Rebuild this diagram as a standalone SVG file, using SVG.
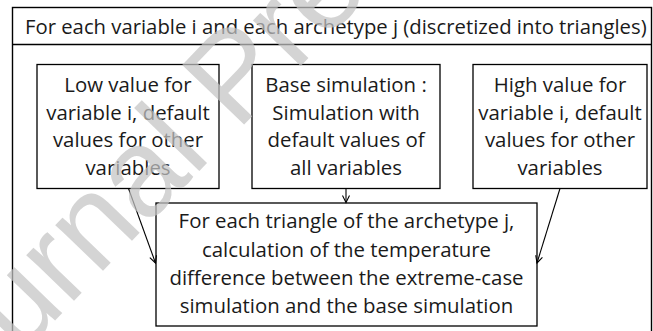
<svg xmlns="http://www.w3.org/2000/svg" width="653" height="331" viewBox="0 0 653 331">
<style>
.frame{fill:none;stroke:#000;stroke-width:1.4}
.box{fill:#fff;stroke:#000;stroke-width:1.3}
.t{font-family:"Open Sans","Noto Sans",sans-serif;font-size:20.4px;fill:#1a1a1a;text-anchor:middle}
.h{font-family:"Open Sans","Noto Sans",sans-serif;font-size:20.3px;fill:#1a1a1a}
.c{fill:none;stroke:#000;stroke-width:1.1}
.wm{font-family:"Liberation Sans",Arial,sans-serif;font-size:125px;fill:#c4c4c4;opacity:0.72}
</style>
<defs>
<marker id="arr" markerUnits="userSpaceOnUse" markerWidth="10" markerHeight="10" refX="8" refY="4" orient="auto">
<path d="M1,0.5 L8,4 L1,7.5" fill="none" stroke="#000" stroke-width="1.1"/>
</marker>
</defs>
<g id="frame">
<rect class="frame" x="12.5" y="7.5" width="639" height="340"/>
<line class="frame" x1="12.5" y1="44.5" x2="651.5" y2="44.5"/>
<text class="h" x="25" y="34">For each variable i and each archetype j (discretized into triangles)</text>
</g>
<g id="low">
<rect class="box" x="37" y="64.5" width="182" height="124"/>
<text class="t" x="128" y="92">Low value for</text>
<text class="t" x="128" y="119.5">variable i, default</text>
<text class="t" x="128" y="147">values for other</text>
<text class="t" x="128" y="174.5">variables</text>
</g>
<g id="base">
<rect class="box" x="252" y="64.5" width="188" height="124"/>
<text class="t" x="346" y="92">Base simulation :</text>
<text class="t" x="346" y="119.5">Simulation with</text>
<text class="t" x="346" y="147">default values of</text>
<text class="t" x="346" y="174.5">all variables</text>
</g>
<g id="high">
<rect class="box" x="473" y="64.5" width="174" height="124"/>
<text class="t" x="560" y="92">High value for</text>
<text class="t" x="560" y="119.5">variable i, default</text>
<text class="t" x="560" y="147">values for other</text>
<text class="t" x="560" y="174.5">variables</text>
</g>
<g id="result">
<rect class="box" x="156" y="203" width="381" height="123"/>
<text class="t" x="346.5" y="228">For each triangle of the archetype j,</text>
<text class="t" x="346.5" y="256.5">calculation of the temperature</text>
<text class="t" x="346.5" y="285">difference between the extreme-case</text>
<text class="t" x="346.5" y="313">simulation and the base simulation</text>
</g>
<g id="connectors">
<line class="c" x1="128.5" y1="188.5" x2="155.5" y2="263" marker-end="url(#arr)"/>
<line class="c" x1="346" y1="188.5" x2="346" y2="202.5" marker-end="url(#arr)"/>
<line class="c" x1="560" y1="188.5" x2="537" y2="263" marker-end="url(#arr)"/>
</g>
<g id="watermark">
<text class="wm" transform="translate(-72,452) rotate(-46)">Journal Pre-proof</text>
</g>
</svg>
